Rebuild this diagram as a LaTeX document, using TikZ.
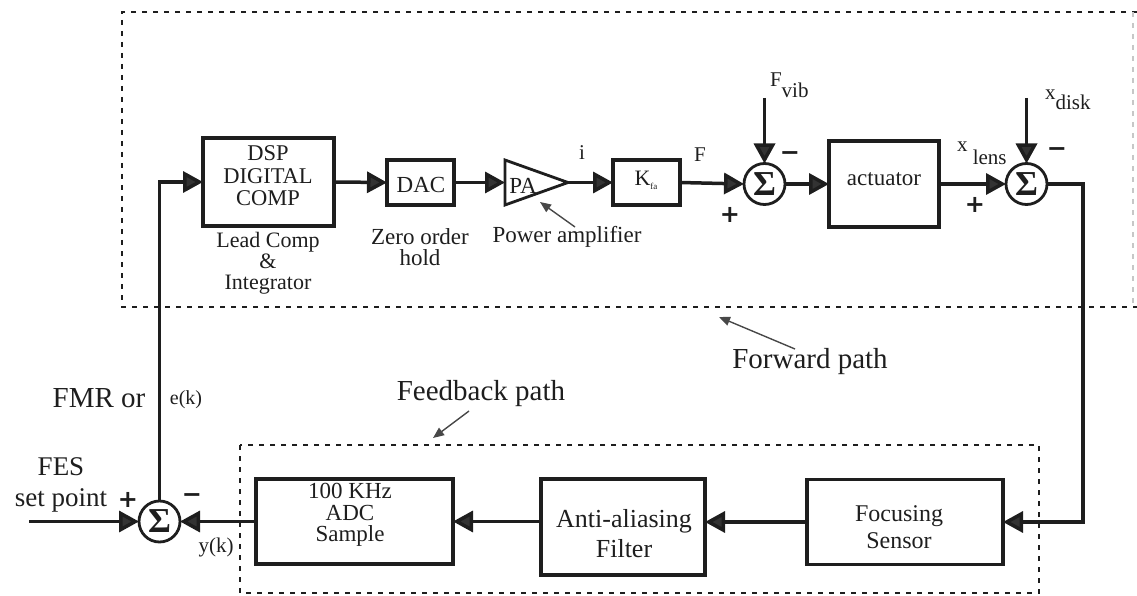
\documentclass[tikz,border=0pt]{standalone}
\usepackage{fontspec}
\setmainfont{Liberation Serif}
\newfontfamily\signfont{DejaVu Sans}
\usetikzlibrary{arrows.meta,calc}
\definecolor{ink}{HTML}{1E1E1E}
\definecolor{tipfill}{HTML}{333333}
\definecolor{note}{HTML}{484848}

\begin{document}
\begin{tikzpicture}[x=1pt,y=-1pt,
  every node/.style={inner sep=0pt, outer sep=0pt, text=ink},
  blk/.style={draw=ink, line width=3.3pt},
  sumc/.style={circle, draw=ink, line width=2.8pt, minimum size=41pt,
    font=\fontsize{35}{35}\selectfont\bfseries},
  arr/.style={draw=ink, line width=3.5pt,
    -{Triangle[length=20pt,width=21pt,fill=tipfill]}},
  notearr/.style={draw=note, line width=1.4pt,
    -{Triangle[length=11pt,width=9pt,fill=note]}},
  dotbox/.style={draw=ink, line width=2.6pt, dash pattern=on 5pt off 6pt},
  txt/.style={font=\fontsize{23}{21}\selectfont, align=center},
  bigtxt/.style={font=\fontsize{29}{28}\selectfont, align=center},
  small/.style={font=\fontsize{21}{21}\selectfont},
  sign/.style={font=\signfont\fontsize{24}{24}\selectfont\bfseries},
]
\useasboundingbox (0,0) rectangle (1137,596);

% ---------- path enclosures ----------
\draw[dotbox] (1137,12) -- (122,12) -- (122,307) -- (1137,307);
\draw[dotbox, draw=black!22] (1133,12) -- (1133,307);
\draw[dotbox] (240,445) rectangle (1039,593);

% ---------- forward path blocks ----------
\node[blk, minimum width=131pt, minimum height=88pt] (dsp) at (268.5,182) {};
\node[txt, font=\fontsize{22.5}{22.5}\selectfont] at (268,176) {DSP\\DIGITAL\\COMP};
\node[txt, font=\fontsize{22}{21}\selectfont] (leadlbl) at (268,263) {Lead Comp\\\&\\Integrator};

\node[blk, minimum width=67pt, minimum height=45pt] (dac) at (420.5,182.5) {};
\node[txt] at (421,185) {DAC};
\node[txt] (zohlbl) at (420,247) {Zero order\\hold};

% power amplifier triangle
\coordinate (pain) at (505,182.5);
\coordinate (paout) at (568,182.5);
\draw[ink, line width=2.8pt, line join=miter] (505,160) -- (paout) -- (505,205) -- cycle;
\node[txt] (patxt) at (523,186) {PA};
\node[txt] (pwrlbl) at (567,237) {Power amplifier};
\coordinate (pwrtail) at (575,227);
\coordinate (pwrhead) at (540,202);

\node[blk, minimum width=67pt, minimum height=45pt] (kfa) at (646.5,182.5) {};
\node[font=\fontsize{22}{22}\selectfont] at (646,180)
  {K\raisebox{-4pt}{\fontsize{9}{9}\selectfont fa}};

\node[sumc] (s1) at (764.5,184) {Σ};
\node[blk, minimum width=110pt, minimum height=86pt] (act) at (884,184) {};
\node[txt] at (884,179) {actuator};
\node[sumc] (s2) at (1026.5,184) {Σ};

% signal labels
\node[small] (ilbl) at (582,153) {i};
\node[small] (flbl) at (700,155) {F};
\node[small, anchor=base west] (fvib) at (770,87) {F\raisebox{-11pt}{vib}};
\node[small, anchor=base west] (xlens) at (957,152) {x \raisebox{-13pt}{lens}};
\node[small, anchor=base west] (xdisk) at (1045,100) {x\raisebox{-10pt}{disk}};
\coordinate (fvibsrc) at (764.5,98);
\coordinate (xdisksrc) at (1026.5,98);

% summing signs
\node[sign] at (730,215) {+};
\node[sign] at (790,156) {\char"2212};
\node[sign] at (975,205) {+};
\node[sign] at (1057,152) {\char"2212};

% ---------- feedback path blocks ----------
\node[blk, minimum width=197pt, minimum height=85pt] (adc) at (354.5,521.5) {};
\node[txt, font=\fontsize{23}{21.5}\selectfont] at (350,515) {100 KHz\\ADC\\Sample};
\node[blk, minimum width=164pt, minimum height=96pt] (aaf) at (623,527) {};
\node[txt, font=\fontsize{26}{30}\selectfont] at (624,534) {Anti-aliasing\\Filter};
\node[blk, minimum width=196pt, minimum height=85pt] (fs) at (905,522) {};
\node[txt, font=\fontsize{24}{27}\selectfont] at (899,527) {Focusing\\Sensor};

\node[sumc] (s0) at (159.5,521.5) {Σ};
\coordinate (fesin) at (29,521.5);
\coordinate (turn) at (1083,184);

% reference / error labels
\node[bigtxt, font=\fontsize{27}{31}\selectfont] (feslbl) at (61,485) {FES\\set point};
\node[sign] at (128,500) {+};
\node[sign] at (192,498) {\char"2212};
\node[bigtxt] (fmrlbl) at (99,398) {FMR or};
\node[font=\fontsize{20}{20}\selectfont] (eklbl) at (186,400) {e(k)};
\node[font=\fontsize{21}{21}\selectfont] (yklbl) at (216,547) {y(k)};

% path captions
\node[bigtxt] (fwdlbl) at (810,362) {Forward path};
\coordinate (fwdtail) at (795,349);
\coordinate (fwdhead) at (719,317);
\node[bigtxt] (fblbl) at (481,394) {Feedback path};
\coordinate (fbtail) at (469,411);
\coordinate (fbhead) at (433,438);

% ---------- connectors ----------
\draw[arr] (dsp.east) -- (dac.west);
\draw[arr] (dac.east) -- (pain);
\draw[arr] (paout) -- (kfa.west);
\draw[arr] (kfa.east) -- (s1.west);
\draw[arr] (s1.east) -- (act.west);
\draw[arr] (act.east) -- (s2.west);
\draw[arr] (fvibsrc) -- (s1.north);
\draw[arr] (xdisksrc) -- (s2.north);
\draw[arr] (s2.east) -- (turn) |- (fs.east);
\draw[arr] (fs.west) -- (fs.west -| aaf.east);
\draw[arr] (aaf.west |- adc.east) -- (adc.east);
\draw[arr] (adc.west) -- (s0.east);
\draw[arr] (fesin) -- (s0.west);
\draw[arr] (s0.north) |- (dsp.west);

\draw[notearr] (pwrtail) -- (pwrhead);
\draw[notearr] (fwdtail) -- (fwdhead);
\draw[notearr] (fbtail) -- (fbhead);
\end{tikzpicture}
\end{document}
